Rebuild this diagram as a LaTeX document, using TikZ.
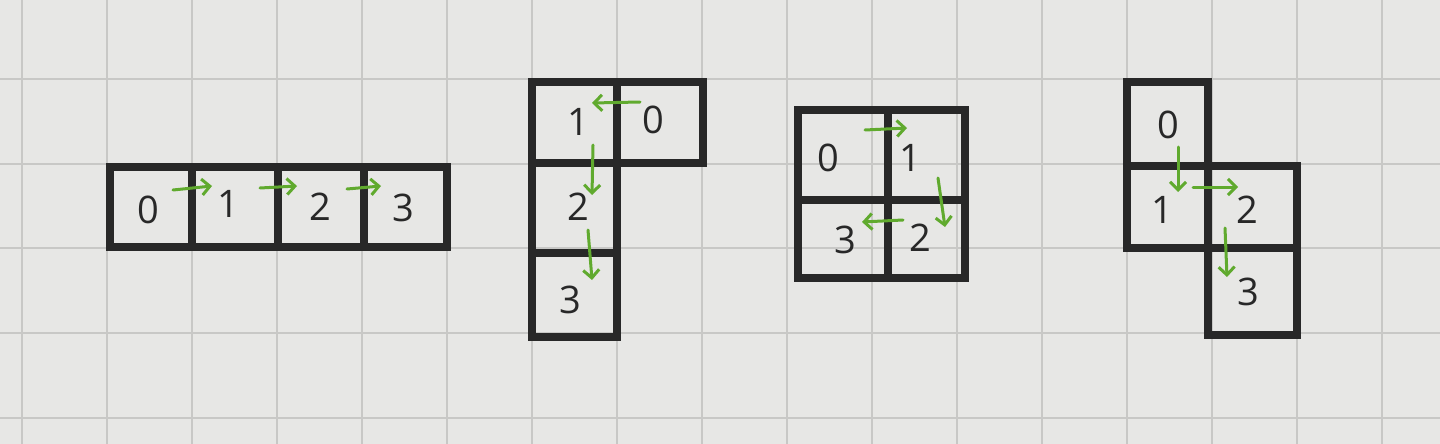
\documentclass[tikz,border=0pt]{standalone}
\usepackage{fontspec}
\setmainfont{Open Sans}
\usetikzlibrary{arrows.meta}
\definecolor{paper}{RGB}{231,231,229}
\definecolor{gridc}{RGB}{200,200,198}
\definecolor{ink}{RGB}{40,40,40}
\definecolor{pen}{RGB}{96,170,46}
\begin{document}
\begin{tikzpicture}[x=1pt,y=-1pt,
  cell/.style={draw=ink, line width=7.5pt, rectangle, inner sep=0pt, outer sep=0pt},
  lbl/.style={text=ink, font=\fontsize{38}{38}\selectfont, inner sep=0pt},
  flow/.style={draw=pen, line width=3pt, line cap=round, line join=round,
    -{Straight Barb[length=8pt,width=16pt]}},
  gridline/.style={draw=gridc, line width=2pt}]
\useasboundingbox (0,0) rectangle (1440,444);
\fill[paper] (0,0) rectangle (1440,444);
% grid paper
\foreach \k in {0,...,16} \draw[gridline] ({22+85*\k},0) -- ({22+85*\k},444);
\foreach \k in {0,...,5} \draw[gridline] (0,{-6+84.8*\k}) -- (1440,{-6+84.8*\k});

% ---------- shape A: straight row ----------
\node[cell, minimum width=82pt, minimum height=80pt] (A0) at (151,207) {};
\node[cell, minimum width=86pt, minimum height=80pt] (A1) at (235,207) {};
\node[cell, minimum width=86pt, minimum height=80pt] (A2) at (321,207) {};
\node[cell, minimum width=83pt, minimum height=80pt] (A3) at (405.5,207) {};
\node[lbl] (a0) at (148,210) {0};
\node[lbl] (a1) at (228,204) {1};
\node[lbl] (a2) at (320,207) {2};
\node[lbl] (a3) at (403,208) {3};
\coordinate (ax0) at (173,190); \coordinate (ax1) at (212,186);
\coordinate (ay0) at (260,188); \coordinate (ay1) at (297,186);
\coordinate (az0) at (347,189); \coordinate (az1) at (381,186);
\draw[flow] (ax0) -- (ax1);
\draw[flow] (ay0) -- (ay1);
\draw[flow] (az0) -- (az1);

% ---------- shape B: L ----------
\node[cell, minimum width=85pt, minimum height=81pt] (B1) at (574.5,122.5) {};
\node[cell, minimum width=86pt, minimum height=81pt] (B0) at (660,122.5) {};
\node[cell, minimum width=85pt, minimum height=90pt] (B2) at (574.5,208) {};
\node[cell, minimum width=85pt, minimum height=84pt] (B3) at (574.5,295) {};
\node[lbl] (b1) at (578,122) {1};
\node[lbl] (b0) at (653,120) {0};
\node[lbl] (b2) at (578,207) {2};
\node[lbl] (b3) at (570,300) {3};
\coordinate (bx0) at (640,102); \coordinate (bx1) at (592,103);
\coordinate (by0) at (593,145); \coordinate (by1) at (592,195);
\coordinate (bz0) at (588,230); \coordinate (bz1) at (592,280);
\draw[flow] (bx0) -- (bx1);
\draw[flow] (by0) -- (by1);
\draw[flow] (bz0) -- (bz1);

% ---------- shape C: square ----------
\node[cell, minimum width=90pt, minimum height=90pt] (C0) at (843,155) {};
\node[cell, minimum width=77pt, minimum height=90pt] (C1) at (926.5,155) {};
\node[cell, minimum width=90pt, minimum height=78pt] (C3) at (843,239) {};
\node[cell, minimum width=77pt, minimum height=78pt] (C2) at (926.5,239) {};
\node[lbl] (c0) at (828,158) {0};
\node[lbl] (c1) at (910,158) {1};
\node[lbl] (c3) at (845,240) {3};
\node[lbl] (c2) at (920,238) {2};
\coordinate (cx0) at (865,130); \coordinate (cx1) at (907,128);
\coordinate (cy0) at (938,178); \coordinate (cy1) at (945,227);
\coordinate (cz0) at (903,220); \coordinate (cz1) at (862,222);
\draw[flow] (cx0) -- (cx1);
\draw[flow] (cy0) -- (cy1);
\draw[flow] (cz0) -- (cz1);

% ---------- shape D: S ----------
\node[cell, minimum width=81pt, minimum height=84pt] (D0) at (1167.5,124) {};
\node[cell, minimum width=81pt, minimum height=82pt] (D1) at (1167.5,207) {};
\node[cell, minimum width=89pt, minimum height=82pt] (D2) at (1252.5,207) {};
\node[cell, minimum width=89pt, minimum height=87pt] (D3) at (1252.5,291.5) {};
\node[lbl] (d0) at (1168,125) {0};
\node[lbl] (d1) at (1162,210) {1};
\node[lbl] (d2) at (1247,210) {2};
\node[lbl] (d3) at (1248,292) {3};
\coordinate (dx0) at (1178,147); \coordinate (dx1) at (1178,192);
\coordinate (dy0) at (1193,187); \coordinate (dy1) at (1238,187);
\coordinate (dz0) at (1225,228); \coordinate (dz1) at (1227,277);
\draw[flow] (dx0) -- (dx1);
\draw[flow] (dy0) -- (dy1);
\draw[flow] (dz0) -- (dz1);
\end{tikzpicture}
\end{document}
